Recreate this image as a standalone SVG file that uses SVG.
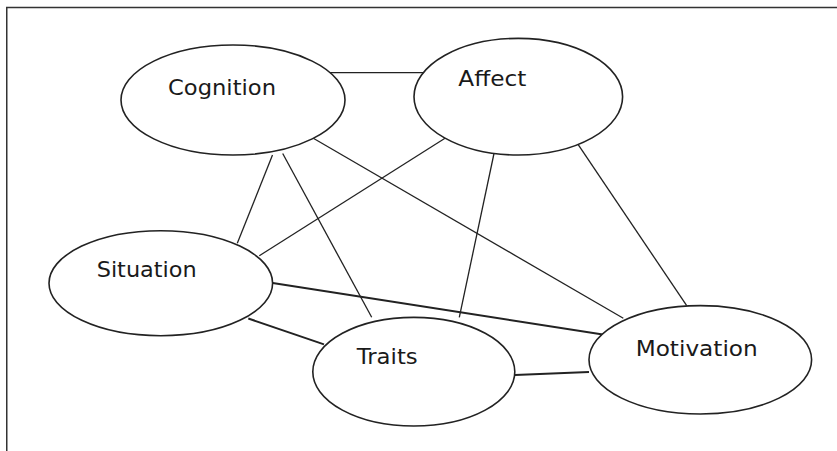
<svg xmlns="http://www.w3.org/2000/svg" width="837" height="451" viewBox="0 0 837 451">
<style>
.node ellipse{fill:#fff;stroke:#222;stroke-width:1.6}
.node text{font-family:"DejaVu Sans","Liberation Sans",sans-serif;font-size:22px;fill:#1a1a1a}
.edge{stroke:#222;stroke-width:1.3;fill:none}
.edge.thick{stroke-width:1.9}
.frame{stroke:#333;stroke-width:1.5;fill:none}
</style>
<rect width="837" height="451" fill="#fff"/>
<g id="frame">
<line class="frame" x1="6" y1="7.5" x2="837" y2="7.5"/>
<line class="frame" x1="6.75" y1="7" x2="6.75" y2="451"/>
</g>
<g id="connectors">
<line class="edge" x1="327" y1="72.7" x2="428.5" y2="72.7"/>
<line class="edge" x1="272.5" y1="155" x2="237.3" y2="243.3"/>
<line class="edge" x1="282.7" y1="153.5" x2="371.7" y2="317.3"/>
<line class="edge" x1="313.3" y1="138.3" x2="623.3" y2="318.3"/>
<line class="edge" x1="445" y1="138.3" x2="259.3" y2="255.7"/>
<line class="edge" x1="494" y1="153.5" x2="459.3" y2="317.3"/>
<line class="edge" x1="574" y1="138.3" x2="686.7" y2="305.7"/>
<line class="edge thick" x1="272.7" y1="283" x2="606" y2="335"/>
<line class="edge thick" x1="248.3" y1="318.5" x2="324" y2="344.3"/>
<line class="edge thick" x1="515" y1="375" x2="589" y2="372"/>
</g>
<g id="cognition" class="node">
<ellipse cx="233" cy="100" rx="112" ry="55"/>
<text x="168" y="95" textLength="108" lengthAdjust="spacingAndGlyphs">Cognition</text>
</g>
<g id="affect" class="node">
<ellipse cx="518.3" cy="96.7" rx="104.3" ry="58.3"/>
<text x="458.3" y="85.7" textLength="68" lengthAdjust="spacingAndGlyphs">Affect</text>
</g>
<g id="situation" class="node">
<ellipse cx="160.8" cy="283.2" rx="111.8" ry="52.5"/>
<text x="96.7" y="276.7" textLength="100" lengthAdjust="spacingAndGlyphs">Situation</text>
</g>
<g id="traits" class="node">
<ellipse cx="413.8" cy="371.7" rx="101" ry="54.3"/>
<text x="356.7" y="364.3" textLength="61" lengthAdjust="spacingAndGlyphs">Traits</text>
</g>
<g id="motivation" class="node">
<ellipse cx="700.3" cy="359.8" rx="111.3" ry="54.2"/>
<text x="635.7" y="355.7" textLength="122" lengthAdjust="spacingAndGlyphs">Motivation</text>
</g>
<g id="connectors-over">
</g>
</svg>
